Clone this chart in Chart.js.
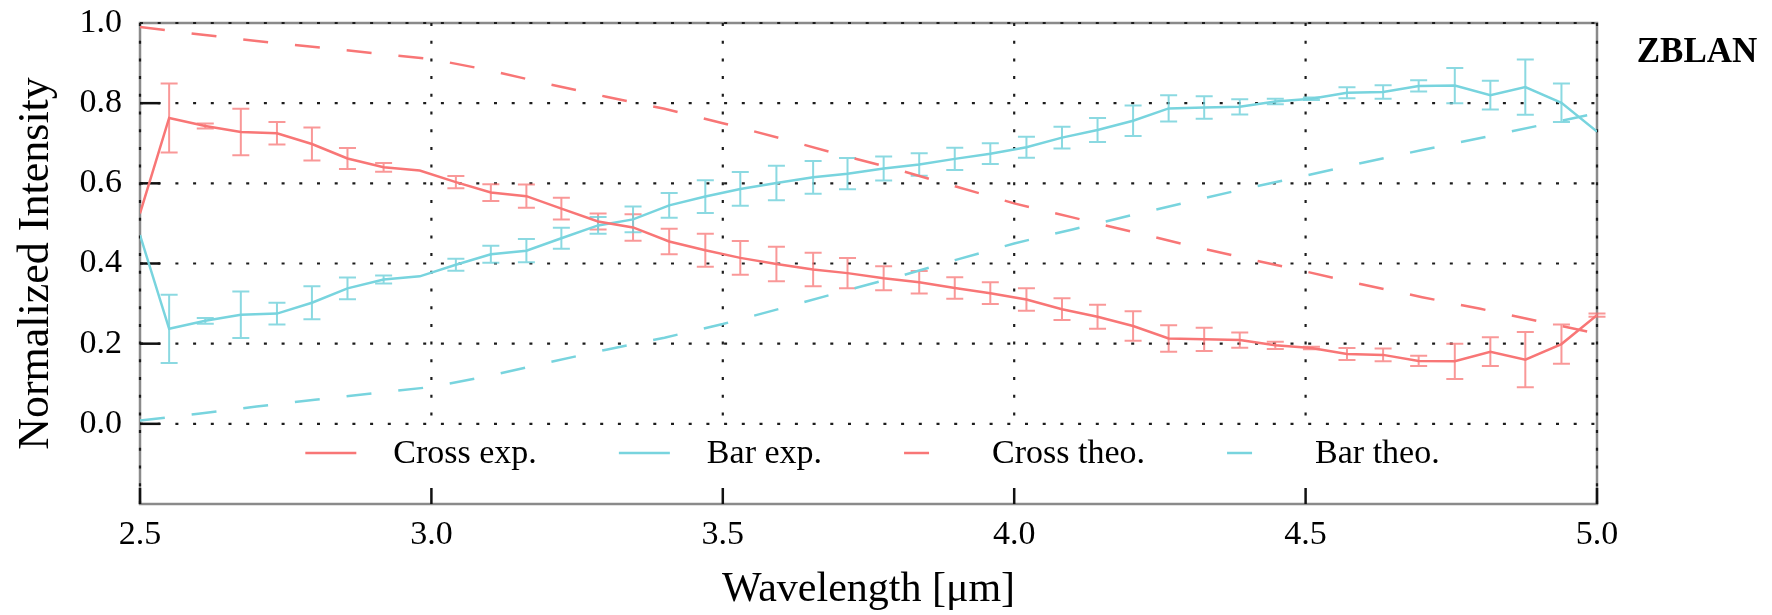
<!DOCTYPE html>
<html>
<head>
<meta charset="utf-8">
<script src="https://cdn.jsdelivr.net/npm/chart.js@4.4.1/dist/chart.umd.min.js"></script>
<style>
html,body{margin:0;padding:0;background:#fff;}
canvas{display:block;}
</style>
</head>
<body>
<canvas id="c" width="1772" height="615"></canvas>
<script>
// ---- data ----
const wavelength = [2.500, 2.550, 2.612, 2.673, 2.735, 2.795, 2.856, 2.918, 2.980, 3.042, 3.102, 3.163, 3.223, 3.286, 3.346, 3.408, 3.470, 3.530, 3.592, 3.655, 3.714, 3.776, 3.837, 3.898, 3.959, 4.021, 4.082, 4.143, 4.204, 4.265, 4.326, 4.387, 4.448, 4.510, 4.571, 4.633, 4.694, 4.756, 4.817, 4.877, 4.939, 5.000];
const crossExp = [0.525, 0.763, 0.743, 0.728, 0.725, 0.698, 0.662, 0.640, 0.632, 0.603, 0.577, 0.568, 0.537, 0.505, 0.490, 0.455, 0.433, 0.414, 0.399, 0.385, 0.376, 0.363, 0.353, 0.339, 0.326, 0.310, 0.286, 0.267, 0.244, 0.213, 0.211, 0.209, 0.196, 0.189, 0.174, 0.172, 0.157, 0.156, 0.180, 0.160, 0.199, 0.271];
const crossErr = [0, 0.086, 0.006, 0.058, 0.028, 0.041, 0.026, 0.011, 0, 0.015, 0.021, 0.029, 0.027, 0.020, 0.033, 0.032, 0.041, 0.042, 0.043, 0.042, 0.038, 0.030, 0.028, 0.027, 0.027, 0.028, 0.027, 0.030, 0.037, 0.033, 0.029, 0.019, 0.009, 0.003, 0.015, 0.016, 0.013, 0.044, 0.036, 0.069, 0.049, 0.004];
const barExp = [0.471, 0.237, 0.257, 0.272, 0.275, 0.302, 0.338, 0.360, 0.368, 0.397, 0.423, 0.432, 0.463, 0.495, 0.510, 0.545, 0.567, 0.586, 0.601, 0.615, 0.624, 0.637, 0.647, 0.661, 0.674, 0.690, 0.714, 0.733, 0.756, 0.787, 0.789, 0.791, 0.804, 0.811, 0.826, 0.828, 0.843, 0.844, 0.820, 0.840, 0.801, 0.729];
const barErr = [0, 0.085, 0.007, 0.058, 0.027, 0.041, 0.027, 0.010, 0, 0.015, 0.021, 0.029, 0.026, 0.021, 0.032, 0.031, 0.041, 0.042, 0.043, 0.041, 0.039, 0.030, 0.028, 0.028, 0.026, 0.026, 0.027, 0.030, 0.038, 0.033, 0.028, 0.019, 0.007, 0.003, 0.014, 0.017, 0.014, 0.044, 0.036, 0.069, 0.048, 0];
const theoWavelength = [2.5, 2.6, 2.7, 2.8, 2.9, 3.0, 3.1, 3.2, 3.3, 3.4, 3.5, 3.6, 3.7, 3.8, 3.9, 4.0, 4.1, 4.2, 4.3, 4.4, 4.5, 4.6, 4.7, 4.8, 4.9, 5.0];
const crossTheo = [0.990, 0.972, 0.955, 0.940, 0.925, 0.910, 0.882, 0.848, 0.816, 0.786, 0.750, 0.712, 0.672, 0.634, 0.592, 0.550, 0.515, 0.480, 0.445, 0.412, 0.380, 0.347, 0.316, 0.287, 0.256, 0.225];
const barTheo = [0.008, 0.025, 0.043, 0.060, 0.076, 0.092, 0.120, 0.153, 0.185, 0.215, 0.249, 0.288, 0.328, 0.367, 0.409, 0.450, 0.485, 0.520, 0.554, 0.588, 0.619, 0.652, 0.683, 0.713, 0.744, 0.775];
const xTicks = [2.5, 3.0, 3.5, 4.0, 4.5, 5.0];
const yTicks = [0.0, 0.2, 0.4, 0.6, 0.8, 1.0];
const seriesLabels = ['Cross exp.', 'Bar exp.', 'Cross theo.', 'Bar theo.'];
const panelLabel = 'ZBLAN';
const xTitle = 'Wavelength [μm]';
const yTitle = 'Normalized Intensity';

// ---- styling ----
const FONT = "'Liberation Serif', 'Times New Roman', serif";
const RED = '#F87676';
const CYAN = '#78D4DE';
const RED_ERR = 'rgba(246,112,112,0.72)';
const CYAN_ERR = 'rgba(110,208,218,0.8)';

const pts = (xs, ys) => xs.map((v, i) => ({x: v, y: ys[i]}));

const frameGrid = {
  id: 'frameGrid',
  beforeDatasetsDraw(chart) {
    const {ctx, chartArea: a, scales: {x, y}} = chart;
    ctx.save();
    ctx.strokeStyle = '#8a8a8a';
    ctx.lineWidth = 2.5;
    ctx.strokeRect(a.left, a.top, a.right - a.left, a.bottom - a.top);
    ctx.strokeStyle = '#1c1c1c';
    ctx.lineWidth = 2.2;
    ctx.setLineDash([3, 14.7]);
    const yTop = y.getPixelForValue(yTicks[yTicks.length - 1]);
    const yZero = y.getPixelForValue(yTicks[0]);
    xTicks.forEach((v, i) => {
      const px = x.getPixelForValue(v);
      const edge = (i === 0 || i === xTicks.length - 1);
      ctx.beginPath();
      ctx.moveTo(px, yTop);
      ctx.lineTo(px, edge ? a.bottom : yZero);
      ctx.stroke();
    });
    yTicks.forEach(v => {
      const py = y.getPixelForValue(v);
      ctx.beginPath();
      ctx.moveTo(a.left, py);
      ctx.lineTo(a.right, py);
      ctx.stroke();
    });
    ctx.setLineDash([]);
    ctx.strokeStyle = '#111';
    ctx.lineWidth = 2.5;
    yTicks.slice(0, -1).forEach(v => {
      const py = y.getPixelForValue(v);
      ctx.beginPath();
      ctx.moveTo(a.left, py);
      ctx.lineTo(a.left + 20, py);
      ctx.stroke();
    });
    xTicks.forEach(v => {
      const px = x.getPixelForValue(v);
      ctx.beginPath();
      ctx.moveTo(px, a.bottom);
      ctx.lineTo(px, a.bottom - 16);
      ctx.stroke();
    });
    ctx.restore();
  }
};

const errorBars = {
  id: 'errorBars',
  beforeDatasetsDraw(chart) {
    const {ctx, scales: {x, y}} = chart;
    ctx.save();
    chart.data.datasets.forEach(ds => {
      if (!ds.errors) return;
      ctx.strokeStyle = ds.errorColor;
      ctx.lineWidth = 2;
      ds.data.forEach((p, j) => {
        const e = ds.errors[j];
        if (!e) return;
        const px = x.getPixelForValue(p.x);
        const pt = y.getPixelForValue(p.y + e);
        const pb = y.getPixelForValue(p.y - e);
        ctx.beginPath();
        ctx.moveTo(px, pt); ctx.lineTo(px, pb);
        ctx.moveTo(px - 8.5, pt); ctx.lineTo(px + 8.5, pt);
        ctx.moveTo(px - 8.5, pb); ctx.lineTo(px + 8.5, pb);
        ctx.stroke();
      });
    });
    ctx.restore();
  }
};

const insideLegend = {
  id: 'insideLegend',
  afterDatasetsDraw(chart) {
    const {ctx, chartArea: a} = chart;
    ctx.save();
    ctx.font = '34px ' + FONT;
    const items = chart.data.datasets.map(ds => ({ds, w: ctx.measureText(ds.label).width}));
    const sampleW = 51, gapT = 37, gapI = 82;
    const total = items.reduce((s, it) => s + sampleW + gapT + it.w, 0) + gapI * (items.length - 1);
    let cx = (a.left + a.right) / 2 - total / 2 + 4;
    const yL = a.bottom - 51;
    items.forEach(it => {
      ctx.strokeStyle = it.ds.borderColor;
      ctx.lineWidth = it.ds.borderWidth;
      ctx.setLineDash(it.ds.borderDash || []);
      ctx.beginPath();
      ctx.moveTo(cx, yL);
      ctx.lineTo(cx + sampleW, yL);
      ctx.stroke();
      ctx.setLineDash([]);
      ctx.fillStyle = '#000';
      ctx.textBaseline = 'middle';
      ctx.textAlign = 'left';
      ctx.fillText(it.ds.label, cx + sampleW + gapT, yL + 1);
      cx += sampleW + gapT + it.w + gapI;
    });
    ctx.restore();
  }
};

const cornerLabel = {
  id: 'cornerLabel',
  afterDraw(chart) {
    const {ctx} = chart;
    ctx.save();
    ctx.font = 'bold 35px ' + FONT;
    ctx.fillStyle = '#000';
    ctx.textAlign = 'center';
    ctx.textBaseline = 'middle';
    ctx.fillText(panelLabel, 1697, 53);
    ctx.restore();
  }
};

Chart.defaults.font.family = FONT;
Chart.defaults.color = '#000';

new Chart(document.getElementById('c'), {
  type: 'line',
  data: {
    datasets: [
      {label: seriesLabels[0], data: pts(wavelength, crossExp), errors: crossErr, errorColor: RED_ERR,
       borderColor: RED, borderWidth: 2.5, pointRadius: 0, tension: 0, fill: false},
      {label: seriesLabels[1], data: pts(wavelength, barExp), errors: barErr, errorColor: CYAN_ERR,
       borderColor: CYAN, borderWidth: 2.5, pointRadius: 0, tension: 0, fill: false},
      {label: seriesLabels[2], data: pts(theoWavelength, crossTheo), borderDash: [25, 27],
       borderColor: RED, borderWidth: 2.5, pointRadius: 0, tension: 0, fill: false},
      {label: seriesLabels[3], data: pts(theoWavelength, barTheo), borderDash: [25, 27],
       borderColor: CYAN, borderWidth: 2.5, pointRadius: 0, tension: 0, fill: false}
    ]
  },
  options: {
    responsive: false,
    animation: false,
    devicePixelRatio: 1,
    layout: {padding: {left: 0, right: 175, top: 23, bottom: 0}},
    plugins: {legend: {display: false}, tooltip: {enabled: false}},
    scales: {
      x: {
        type: 'linear', min: 2.5, max: 5.0,
        afterBuildTicks: s => { s.ticks = xTicks.map(v => ({value: v})); },
        afterFit: s => { s.height = 111; s.paddingLeft = 0; s.paddingRight = 0; },
        grid: {display: false, drawTicks: false},
        border: {display: false},
        ticks: {padding: 11, color: '#000', font: {size: 34}, maxRotation: 0, autoSkip: false,
                callback: v => Number(v).toFixed(1)},
        title: {display: true, text: xTitle, color: '#000', font: {size: 42}, padding: {top: 0, bottom: 0}}
      },
      y: {
        type: 'linear', min: -0.2, max: 1.0,
        afterBuildTicks: s => { s.ticks = yTicks.map(v => ({value: v})); },
        afterFit: s => { s.width = 140; s.paddingTop = 0; s.paddingBottom = 0; },
        grid: {display: false, drawTicks: false},
        border: {display: false},
        ticks: {padding: 18, color: '#000', font: {size: 34}, autoSkip: false,
                callback: v => Number(v).toFixed(1)},
        title: {display: true, text: yTitle, color: '#000', font: {size: 44}, padding: {top: 10, bottom: 0}}
      }
    }
  },
  plugins: [frameGrid, errorBars, insideLegend, cornerLabel]
});
</script>
</body>
</html>
